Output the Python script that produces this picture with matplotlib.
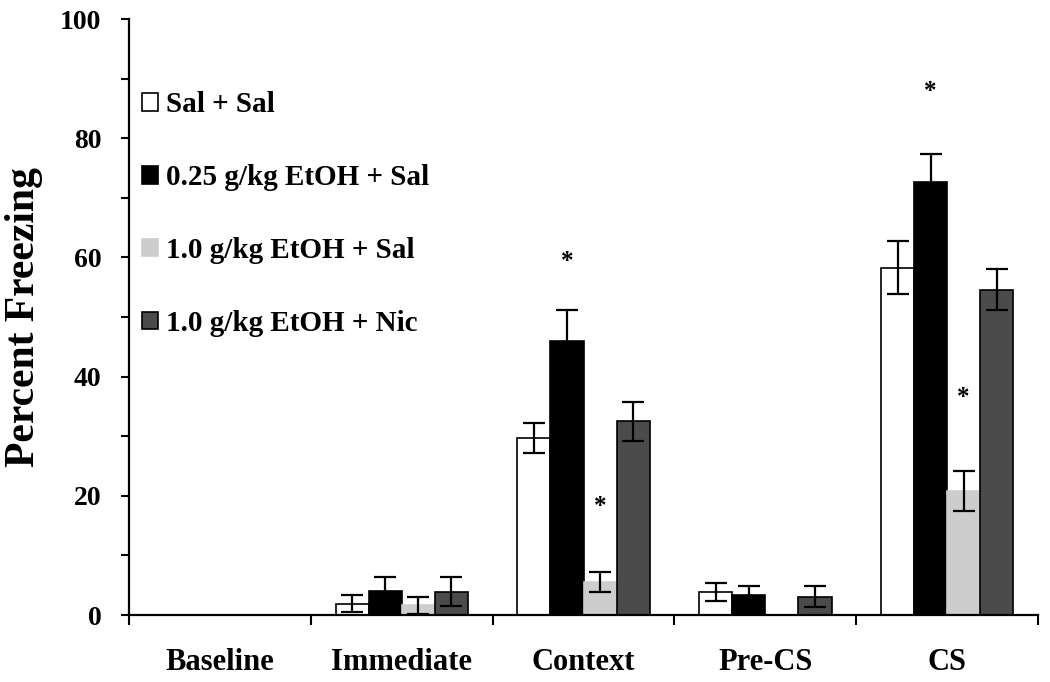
import numpy as np
import matplotlib
matplotlib.use("Agg")
import matplotlib.pyplot as plt

plt.rcParams['font.family'] = ['Liberation Serif', 'DejaVu Serif']
plt.rcParams['font.weight'] = 'bold'

phases = ["Baseline", "Immediate", "Context", "Pre-CS", "CS"]
groups = ["Sal + Sal", "0.25 g/kg EtOH + Sal", "1.0 g/kg EtOH + Sal", "1.0 g/kg EtOH + Nic"]

sal_sal      = [0, 1.9, 29.7, 3.8, 58.3]
sal_sal_err  = [0, 1.4, 2.5, 1.5, 4.4]
etoh025      = [0, 4.0, 45.9, 3.3, 72.7]
etoh025_err  = [0, 2.4, 5.2, 1.5, 4.7]
etoh10       = [0, 1.6, 5.5, 0, 20.8]
etoh10_err   = [0, 1.5, 1.7, 0, 3.4]
etoh10_nic   = [0, 3.9, 32.5, 3.1, 54.6]
etoh10_nic_err = [0, 2.4, 3.3, 1.7, 3.5]

# significance stars: (phase index, group index, y)
stars = [(2, 1, 59.4), (2, 2, 18.2), (4, 1, 87.9), (4, 2, 36.5)]

means = [sal_sal, etoh025, etoh10, etoh10_nic]
errs = [sal_sal_err, etoh025_err, etoh10_err, etoh10_nic_err]
faces = ["white", "black", "#cdcdcd", "#4b4b4b"]
edges = ["black", "black", "#cdcdcd", "black"]

fig = plt.figure(figsize=(10.5, 6.82), dpi=100)
ax = fig.add_axes([0.1229, 0.0982, 0.8657, 0.8739])

w = 0.182
x = np.arange(len(phases))
for i in range(4):
    pos = x + (i - 1.5) * w
    ax.bar(pos, means[i], width=w, color=faces[i], edgecolor=edges[i],
           linewidth=1.2, label=groups[i], zorder=2)
    m = np.array(errs[i]) > 0
    ax.errorbar(pos[m], np.array(means[i])[m], yerr=np.array(errs[i])[m],
                fmt="none", ecolor="black", elinewidth=1.6, capsize=8,
                capthick=1.6, zorder=3)

for p, g, y in stars:
    ax.text(p + (g - 1.5) * w, y, "*", ha="center", va="center",
            fontsize=18, fontweight="bold")

ax.set_xlim(-0.5, 4.5)
ax.set_ylim(0, 100)
ax.set_yticks(np.arange(0, 101, 20))
ax.set_yticks(np.arange(10, 100, 20), minor=True)
ax.tick_params(axis="y", which="both", direction="out", length=6, width=1.5,
               labelsize=20, pad=14)

ax.set_xticks(np.arange(-0.5, 4.6, 1))
ax.set_xticklabels([])
ax.set_xticks(x, minor=True)
ax.set_xticklabels(phases, minor=True)
ax.tick_params(axis="x", which="major", direction="out", length=7, width=1.5)
ax.tick_params(axis="x", which="minor", length=0, labelsize=22, pad=24)

for s in ["top", "right"]:
    ax.spines[s].set_visible(False)
for s in ["left", "bottom"]:
    ax.spines[s].set_linewidth(1.6)

ax.set_ylabel("Percent Freezing", fontsize=30, fontweight="bold", labelpad=12)

ax.legend(loc="upper left", bbox_to_anchor=(-0.008, 0.913), frameon=False,
          fontsize=21, handlelength=0.55, handleheight=0.55, handletextpad=0.25,
          labelspacing=1.57, borderaxespad=0.3)

fig.savefig("out.png", dpi=100)
